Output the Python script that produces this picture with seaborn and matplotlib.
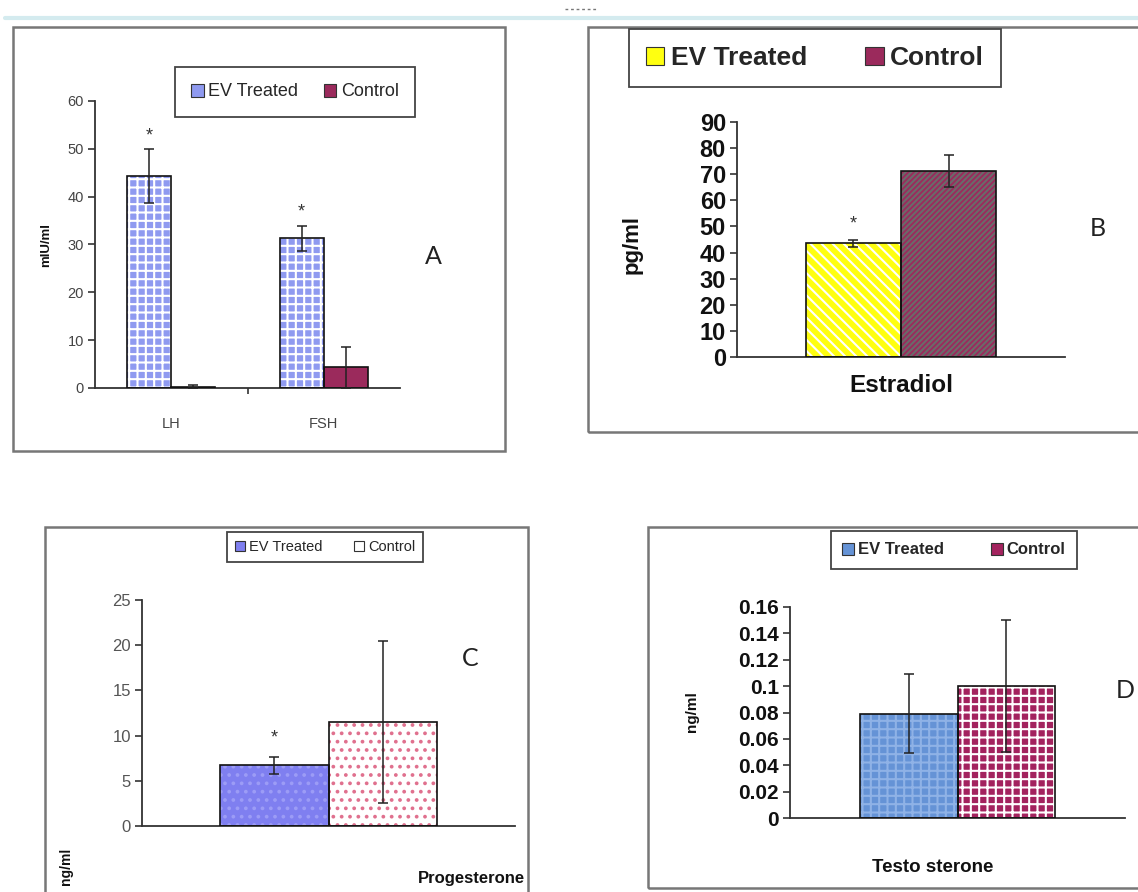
import matplotlib
matplotlib.use("Agg")
import matplotlib.pyplot as plt
import seaborn as sns
import pandas as pd
from matplotlib.patches import Rectangle, Patch
from matplotlib.lines import Line2D

sns.set_theme(style="white")
plt.rcParams['font.family'] = ['Liberation Sans', 'DejaVu Sans']
plt.rcParams['hatch.linewidth'] = 1.5

# ---------------- data ----------------
groups = ["EV Treated", "Control"]

a_hormones = ["LH", "FSH"]
a_ev = [44.3, 31.3]
a_ev_err = [5.6, 2.6]
a_ctrl = [0.3, 4.3]
a_ctrl_err = [0.3, 4.2]
a_yticks = [0, 10, 20, 30, 40, 50, 60]

b_hormone = ["Estradiol"]
b_ev = [43.5]
b_ev_err = [1.5]
b_ctrl = [71.2]
b_ctrl_err = [6.0]
b_yticks = [0, 10, 20, 30, 40, 50, 60, 70, 80, 90]

c_hormone = ["Progesterone"]
c_ev = [6.7]
c_ev_err = [0.9]
c_ctrl = [11.5]
c_ctrl_err = [9.0]
c_yticks = [0, 5, 10, 15, 20, 25]

d_hormone = ["Testo sterone"]
d_ev = [0.079]
d_ev_err = [0.03]
d_ctrl = [0.100]
d_ctrl_err = [0.05]
d_yticks = [0, 0.02, 0.04, 0.06, 0.08, 0.10, 0.12, 0.14, 0.16]
d_yticklabels = ["0", "0.02", "0.04", "0.06", "0.08", "0.1", "0.12", "0.14", "0.16"]

W, H = 1138, 892
fig = plt.figure(figsize=(W / 100, H / 100), dpi=100)


def fx(px):
    return px / W


def fy(py):
    return 1 - py / H


def rect(l, t, r, b):
    return [fx(l), fy(b), fx(r) - fx(l), fy(t) - fy(b)]


def panel(ax, cats, ev, ev_err, ctrl, ctrl_err, styles, star_offset, ylim, yticks,
          yticklabels, tick_kw, axis_color):
    n = len(cats)
    df = pd.DataFrame({
        "hormone": cats * 2,
        "group": [groups[0]] * n + [groups[1]] * n,
        "value": ev + ctrl,
    })
    sns.barplot(data=df, x="hormone", y="value", hue="group", hue_order=groups,
                order=cats, width=0.58, ax=ax, legend=False, errorbar=None,
                palette=[styles[0]["face"], styles[1]["face"]], saturation=1)
    for gi, (container, errs) in enumerate(zip(ax.containers, [ev_err, ctrl_err])):
        st = styles[gi]
        for bar, err in zip(container, errs):
            bar.set_facecolor(st["face"])
            bar.set_hatch(st["hatch"])
            bar.set_edgecolor(st["hatchcolor"])
            bar.set_linewidth(0)
            ax.add_patch(Rectangle((bar.get_x(), bar.get_y()), bar.get_width(), bar.get_height(),
                                   fill=False, edgecolor="#111", lw=1.2, zorder=3))
            cx = bar.get_x() + bar.get_width() / 2
            ax.errorbar(cx, bar.get_height(), yerr=err, color="#222", lw=1.1,
                        capsize=3.5, capthick=1.1, zorder=4)
            if gi == 0 and star_offset is not None:
                ax.text(cx, bar.get_height() + err + star_offset, "*", ha="center",
                        va="center", fontsize=13, color="#333", zorder=5)
    ax.set_xlim(-0.5, n - 0.5)
    ax.set_ylim(*ylim)
    ax.set_yticks(yticks)
    ax.set_yticklabels(yticklabels, **tick_kw)
    ax.set_xlabel("")
    ax.set_ylabel("")
    for s in ["top", "right"]:
        ax.spines[s].set_visible(False)
    for s in ["left", "bottom"]:
        ax.spines[s].set_color(axis_color)
        ax.spines[s].set_linewidth(1.3)
    ax.tick_params(axis="y", left=True, length=5, width=1.2, color=axis_color, pad=3)
    ax.set_facecolor("none")


# ---------------- Panel A ----------------
style_a = [
    {"face": "#8f9af0", "hatch": "++", "hatchcolor": "#ffffff"},
    {"face": "#9b2a5c", "hatch": "", "hatchcolor": "#9b2a5c"},
]
axA = fig.add_axes(rect(95, 101, 400, 388))
panel(axA, a_hormones, a_ev, a_ev_err, a_ctrl, a_ctrl_err, style_a, 2.8, (0, 60),
      a_yticks, [str(v) for v in a_yticks], {"fontsize": 10.5, "color": "#444"}, "#333")
axA.set_xticks(range(len(a_hormones)))
axA.set_xticklabels(a_hormones, fontsize=10.5, color="#444")
axA.set_xticks([0.5], minor=True)
axA.tick_params(axis="x", which="major", bottom=False, pad=15)
axA.tick_params(axis="x", which="minor", bottom=True, length=4, width=1.2, color="#333")
fig.text(fx(46), fy(245), "mIU/ml", rotation=90, ha="center", va="center",
         fontsize=9.5, fontweight="bold", color="#111")

# ---------------- Panel B ----------------
style_b = [
    {"face": "#ffff10", "hatch": "\\\\\\", "hatchcolor": "#ffffff"},
    {"face": "#9b2a5c", "hatch": "//////", "hatchcolor": "#6a6a6a"},
]
axB = fig.add_axes(rect(737, 122, 1065, 357))
panel(axB, b_hormone, b_ev, b_ev_err, b_ctrl, b_ctrl_err, style_b, 6.0, (0, 90),
      b_yticks, [str(v) for v in b_yticks], {"fontsize": 17, "fontweight": "bold", "color": "#111"},
      "#333")
axB.set_xticks([])
axB.set_xlabel(b_hormone[0], fontsize=17.5, fontweight="bold", labelpad=12, color="#111")
fig.text(fx(632), fy(245), "pg/ml", rotation=90, ha="center", va="center",
         fontsize=16, fontweight="bold", color="#111")

# ---------------- Panel C ----------------
style_c = [
    {"face": "#7f7ff0", "hatch": "..", "hatchcolor": "#9c9cf6"},
    {"face": "#ffffff", "hatch": "..", "hatchcolor": "#e0708e"},
]
axC = fig.add_axes(rect(142, 600, 515, 826))
panel(axC, c_hormone, c_ev, c_ev_err, c_ctrl, c_ctrl_err, style_c, 2.1, (0, 25),
      c_yticks, [str(v) for v in c_yticks], {"fontsize": 12, "color": "#555"}, "#333")
axC.set_xticks([])
fig.text(fx(66), fy(866), "ng/ml", rotation=90, ha="center", va="center",
         fontsize=10, fontweight="bold", color="#111")
fig.text(fx(525), fy(878), c_hormone[0], ha="right", va="center",
         fontsize=12, fontweight="bold", color="#111")

# ---------------- Panel D ----------------
style_d = [
    {"face": "#6593d6", "hatch": "++", "hatchcolor": "#8fb2e6"},
    {"face": "#a3235e", "hatch": "++", "hatchcolor": "#ffffff"},
]
axD = fig.add_axes(rect(790, 607, 1125, 818))
panel(axD, d_hormone, d_ev, d_ev_err, d_ctrl, d_ctrl_err, style_d, None, (0, 0.16),
      d_yticks, d_yticklabels, {"fontsize": 15, "fontweight": "bold", "color": "#111"}, "#333")
axD.set_xticks([])
fig.text(fx(933), fy(867), d_hormone[0], ha="center", va="center",
         fontsize=13.5, fontweight="bold", color="#111")
fig.text(fx(692), fy(712), "ng/ml", rotation=90, ha="center", va="center",
         fontsize=11, fontweight="bold", color="#111")

# ---------------- legends ----------------
def legend(styles, center, size, bold, pad, colsp):
    handles = [Patch(facecolor=s["face"], edgecolor="#333", lw=0.8) for s in styles]
    lg = fig.legend(handles, groups, loc="center", bbox_to_anchor=center, ncol=2,
                    frameon=True, fancybox=False, edgecolor="#444", framealpha=1,
                    prop={"size": size, "weight": "bold" if bold else "normal"},
                    handlelength=0.7, handleheight=0.7, handletextpad=0.25,
                    columnspacing=colsp, borderpad=pad)
    lg.get_frame().set_linewidth(1.3)
    return lg


legend(style_a, (fx(295), fy(92)), 13, False, 0.9, 1.4)
legend(style_b, (fx(815), fy(58)), 19, True, 0.65, 2.2)
legend(style_c, (fx(325), fy(547)), 10.5, False, 0.55, 2.2)
legend(style_d, (fx(954), fy(550)), 12, True, 0.7, 2.8)

# ---------------- panel letters ----------------
for letter, (px, py) in zip("ABCD", [(433, 257), (1098, 228), (470, 658), (1125, 690)]):
    fig.text(fx(px), fy(py), letter, ha="center", va="center", fontsize=18,
             family=["Lato", "DejaVu Sans"], color="#222")

# ---------------- panel frames ----------------
for l, t, r, b in [(13, 27, 505, 451), (588, 27, 1145, 432), (45, 527, 528, 900), (648, 527, 1145, 888)]:
    fig.add_artist(Rectangle((fx(l), fy(b)), fx(r) - fx(l), fy(t) - fy(b),
                             transform=fig.transFigure, fill=False, edgecolor="#777", lw=1.8))

fig.add_artist(Line2D([fx(5), fx(1138)], [fy(18), fy(18)], transform=fig.transFigure,
                      color="#d4ebef", lw=3))
fig.add_artist(Line2D([fx(565), fx(596)], [fy(9), fy(9)], transform=fig.transFigure,
                      color="#777", lw=1, linestyle=(0, (2, 2))))

fig.savefig("out.png", dpi=100)
